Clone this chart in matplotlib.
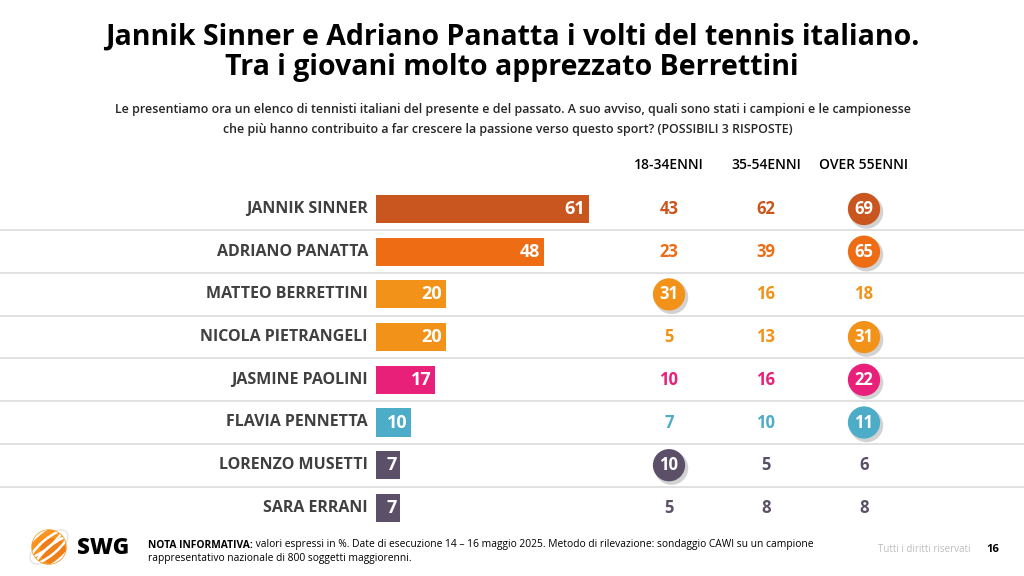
import numpy as np
import matplotlib.pyplot as plt
from matplotlib.patches import Circle, Ellipse

# ─── Data ───
players = ['JANNIK SINNER', 'ADRIANO PANATTA', 'MATTEO BERRETTINI',
           'NICOLA PIETRANGELI', 'JASMINE PAOLINI', 'FLAVIA PENNETTA',
           'LORENZO MUSETTI', 'SARA ERRANI']
totale = [61, 48, 20, 20, 17, 10, 7, 7]
eta_18_34 = [43, 23, 31, 5, 10, 7, 10, 5]
eta_35_54 = [62, 39, 16, 13, 16, 10, 5, 8]
eta_over55 = [69, 65, 18, 31, 22, 11, 6, 8]
group_labels = ['18-34ENNI', '35-54ENNI', 'OVER 55ENNI']
# rows shown inside a circle, per age column
highlight = [[2, 6], [], [0, 1, 3, 4, 5]]

row_colors = ['#C9561E', '#EE6C14', '#F39219', '#F39219',
              '#E8207A', '#4DACC8', '#5C5068', '#5C5068']

plt.rcParams['font.family'] = ['Open Sans', 'DejaVu Sans']

W, H = 1024, 576
fig = plt.figure(figsize=(W / 100, H / 100), dpi=100)
fig.patch.set_facecolor('white')


def fx(px):
    return px / W


def fy(py):
    return 1 - py / H


# ─── Titles ───
fig.text(fx(512), fy(37), 'Jannik Sinner e Adriano Panatta i volti del tennis italiano.',
         ha='center', va='center', fontsize=20.5, fontweight='bold', color='black')
fig.text(fx(512), fy(68), 'Tra i giovani molto apprezzato Berrettini',
         ha='center', va='center', fontsize=20.5, fontweight='bold', color='black')
fig.text(fx(513), fy(110),
         'Le presentiamo ora un elenco di tennisti italiani del presente e del passato. '
         'A suo avviso, quali sono stati i campioni e le campionesse',
         ha='center', va='center', fontsize=8.9, fontweight='semibold', color='#262626')
fig.text(fx(508), fy(129),
         'che più hanno contribuito a far crescere la passione verso questo sport? '
         '(POSSIBILI 3 RISPOSTE)',
         ha='center', va='center', fontsize=8.9, fontweight='semibold', color='#262626')

# ─── Layout of rows ───
n = len(players)
row0, row_step = 209, 42.7
top_px = row0 - row_step / 2
bot_px = row0 + row_step * (n - 0.5)
ax_bottom = fy(bot_px)
ax_height = (bot_px - top_px) / H

# table axes spans whole width in pixel x units
tab = fig.add_axes([0, ax_bottom, 1, ax_height])
tab.set_xlim(0, W)
tab.set_ylim(n - 0.5, -0.5)
tab.axis('off')

for i in range(n - 1):
    tab.axhline(i + 0.5, color='#DCDCDC', lw=1.2)

for i, name in enumerate(players):
    tab.text(368, i, name, ha='right', va='center', fontsize=11.5,
             fontweight='bold', color='#404040')

col_x = [669, 766, 864]
columns = [eta_18_34, eta_35_54, eta_over55]
for c, (xc, vals, lab) in enumerate(zip(col_x, columns, group_labels)):
    tab.text(xc, -1.03, lab, ha='center', va='center', fontsize=10,
             fontweight='semibold', color='black', clip_on=False)
    for i, v in enumerate(vals):
        if i in highlight[c]:
            tab.scatter([xc + 2.5], [i + 0.07], s=580, color='#7F7F7F',
                        alpha=0.35, edgecolors='none', zorder=3)
            tab.scatter([xc], [i], s=540, color=row_colors[i],
                        edgecolors='none', zorder=4)
            tab.text(xc, i, str(v), ha='center', va='center', fontsize=12,
                     fontweight='bold', color='white', zorder=5)
        else:
            tab.text(xc, i, str(v), ha='center', va='center', fontsize=12,
                     fontweight='bold', color=row_colors[i])

# ─── Bars ───
bars_ax = fig.add_axes([fx(376), ax_bottom, 349 / W, ax_height])
bars_ax.set_xlim(0, 100)
bars_ax.set_ylim(n - 0.5, -0.5)
bars_ax.axis('off')
bars_ax.patch.set_alpha(0)
bars_ax.barh(np.arange(n), totale, height=0.66, color=row_colors, zorder=2)
for i, v in enumerate(totale):
    bars_ax.text(v - 1.0, i, str(v), ha='right', va='center', fontsize=13,
                 fontweight='bold', color='white', zorder=3)

# ─── Footer ───
nota = fig.text(fx(148), fy(545), 'NOTA INFORMATIVA:', ha='left', va='center',
                fontsize=7.35, fontweight='bold', color='black')
logo = fig.add_axes([0, 0, 1, 1], zorder=-1)
logo.set_xlim(0, W)
logo.set_ylim(H, 0)
logo.axis('off')
logo.annotate(' valori espressi in %. Date di esecuzione 14 – 16 maggio 2025. '
              'Metodo di rilevazione: sondaggio CAWI su un campione',
              xy=(1, 0.5), xycoords=nota, ha='left', va='center',
              fontsize=7.35, color='black')
fig.text(fx(148), fy(559), 'rappresentativo nazionale di 800 soggetti maggiorenni.',
         ha='left', va='center', fontsize=7.35, color='black')
fig.text(fx(970), fy(550), 'Tutti i diritti riservati', ha='right', va='center',
         fontsize=7, color='#BDBDBD')
fig.text(fx(993), fy(550), '16', ha='center', va='center', fontsize=8,
         fontweight='bold', color='black')

# ─── Logo ───
ring = Ellipse((49, 547), 46, 22, angle=-40, fill=False, ec='#E2E2E2', lw=0.9, zorder=1)
logo.add_patch(ring)
sphere = Circle((49, 547), 17, color='#F7931E', zorder=2)
logo.add_patch(sphere)
shade = Circle((53, 551), 12, color='#EC7012', alpha=0.55, zorder=2)
logo.add_patch(shade)
shade.set_clip_path(sphere)
for off in (-8, 0, 8):
    band = Ellipse((49 - off * 0.64, 547 - off * 0.77), 50, 16, angle=-40,
                   fill=False, ec='white', lw=1.8, zorder=3)
    logo.add_patch(band)
    band.set_clip_path(sphere)
logo.text(77, 548, 'SWG', ha='left', va='center', fontsize=16,
          fontweight='heavy', color='black')

fig.savefig('out.png', dpi=100)
